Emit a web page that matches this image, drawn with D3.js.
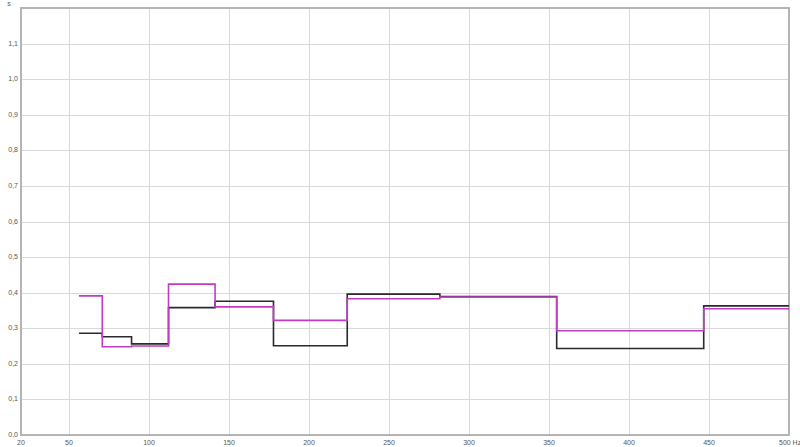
<!DOCTYPE html>
<html><head><meta charset="utf-8">
<script src="https://cdn.jsdelivr.net/npm/d3@7"></script>
<style>
html,body{margin:0;padding:0;background:#fff;}
svg{display:block;}
text{font-family:"Liberation Sans",Arial,sans-serif;}
</style></head>
<body>
<svg id="chart" width="800" height="447"></svg>
<script>
// 1/3-octave band edges (Hz), last edge clipped at axis end
const bandEdges = [56.2, 70.8, 89.1, 112.2, 141.3, 177.8, 223.9, 281.8, 354.8, 446.7, 500];
const bandCenters = ["63", "80", "100", "125", "160", "200", "250", "315", "400", "500"];
const seriesBlack = [0.286, 0.276, 0.256, 0.358, 0.376, 0.251, 0.396, 0.389, 0.243, 0.363];
const seriesMagenta = [0.391, 0.248, 0.250, 0.424, 0.360, 0.322, 0.383, 0.388, 0.293, 0.355];
const xTicks = [20, 50, 100, 150, 200, 250, 300, 350, 400, 450, 500];
const yTicks = [0, 0.1, 0.2, 0.3, 0.4, 0.5, 0.6, 0.7, 0.8, 0.9, 1.0, 1.1];
const yUnit = "s";
const xUnit = "Hz";

const svg = d3.select("#chart");
const x = d3.scaleLinear().domain([20, 500]).range([21, 789]);
const y = d3.scaleLinear().domain([0, 1.2]).range([435, 8]);

// grid
const grid = svg.append("g");
grid.selectAll("line.v").data(xTicks.slice(1, -1)).enter().append("line")
  .attr("x1", d => Math.round(x(d)) + 0.5).attr("x2", d => Math.round(x(d)) + 0.5)
  .attr("y1", y(1.2)).attr("y2", y(0))
  .attr("stroke", "#d9d9d9").attr("stroke-width", 1);
grid.selectAll("line.h").data(yTicks.slice(1)).enter().append("line")
  .attr("y1", d => Math.round(y(d)) + 0.5).attr("y2", d => Math.round(y(d)) + 0.5)
  .attr("x1", x(20)).attr("x2", x(500))
  .attr("stroke", "#d9d9d9").attr("stroke-width", 1);

// frame
svg.append("rect").attr("x", x(20)).attr("y", y(1.2))
  .attr("width", x(500) - x(20)).attr("height", y(0) - y(1.2))
  .attr("fill", "none").attr("stroke", "#b4b4b4").attr("stroke-width", 2);

// axis labels
const fmt = d => d3.format(".1f")(d).replace(".", ",");
svg.append("g").selectAll("text").data(yTicks).enter().append("text")
  .attr("x", 18).attr("y", d => y(d) + 2)
  .attr("text-anchor", "end").attr("font-size", 7).attr("fill", "#555")
  .text(fmt);
svg.append("text").attr("x", 9).attr("y", 6).attr("text-anchor", "middle")
  .attr("font-size", 7).attr("fill", "#555").text(yUnit);
svg.append("g").selectAll("text").data(xTicks).enter().append("text")
  .attr("x", d => x(d)).attr("y", 445)
  .attr("text-anchor", d => d === 500 ? "start" : "middle")
  .attr("dx", d => d === 500 ? -10 : 0)
  .attr("font-size", 7).attr("fill", "#555")
  .text(d => d === 500 ? d + " " + xUnit : d);

// step lines
function stepPoints(vals) {
  const pts = vals.map((v, i) => [bandEdges[i], v]);
  pts.push([bandEdges[bandEdges.length - 1], vals[vals.length - 1]]);
  return pts;
}
const line = d3.line().x(d => x(d[0])).y(d => y(d[1])).curve(d3.curveStepAfter);
svg.append("path").attr("d", line(stepPoints(seriesBlack)))
  .attr("fill", "none").attr("stroke", "#2a2a2a").attr("stroke-width", 1.6);
svg.append("path").attr("d", line(stepPoints(seriesMagenta)))
  .attr("fill", "none").attr("stroke", "#c03cc4").attr("stroke-width", 1.6);
</script>
</body></html>
